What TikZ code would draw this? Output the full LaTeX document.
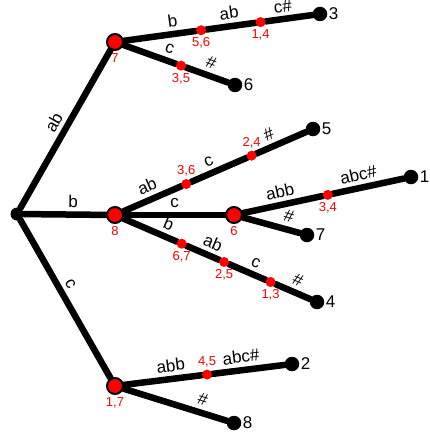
\documentclass[tikz,border=0pt]{standalone}
\usepackage{fontspec}
\setmainfont{Liberation Sans}
\usetikzlibrary{calc,backgrounds}

\begin{document}
\begin{tikzpicture}[x=1pt,y=-1pt,
  edge/.style={line width=6.5pt,line cap=round},
  leaf/.style={circle,fill=black,inner sep=0pt,minimum size=14.5pt,
    label={[font=\fontsize{17}{19}\selectfont,label distance=-2pt]right:#1}},
  inner/.style={circle,draw=black,line width=2pt,fill=red,inner sep=0pt,minimum size=16pt,
    label={[idx]below:#1}},
  split/.style={circle,fill=red,inner sep=0pt,minimum size=10pt},
  lbl/.style={font=\fontsize{17}{19}\selectfont,sloped,above,inner sep=2pt,yshift=2pt},
  idx/.style={font=\fontsize{13}{15}\selectfont,text=red,inner sep=2pt,label distance=0pt}]
  \useasboundingbox (0,0) rectangle (429,436);

  % tree nodes
  \node[circle,fill=black,inner sep=0pt,minimum size=13pt] (root) at (17,214) {};
  \node[inner=7] (n7) at (115,42) {};
  \node[inner=8] (n8) at (115,215) {};
  \node[inner={1,7}] (n17) at (115,386) {};
  \node[inner=6] (n6) at (234,215) {};

  % leaves
  \node[leaf=3] (l3) at (320,14) {};
  \node[leaf=6] (l6) at (235,85) {};
  \node[leaf=5] (l5) at (313,129) {};
  \node[leaf=1] (l1) at (411,177) {};
  \node[leaf=7] (l7) at (307,235) {};
  \node[leaf=4] (l4) at (317,302) {};
  \node[leaf=2] (l2) at (292,364) {};
  \node[leaf=8] (l8) at (234,423) {};

  % split points on the edges
  \node[split,label={[idx]below:{5,6}}] (s56) at ($(n7)!0.42!(l3)$) {};
  \node[split,label={[idx]below:{1,4}}] (s14) at ($(n7)!0.71!(l3)$) {};
  \node[split,label={[idx]below:{3,5}}] (s35) at ($(n7)!0.55!(l6)$) {};
  \node[split,label={[idx]above:{3,6}}] (s36) at ($(n8)!0.36!(l5)$) {};
  \node[split,label={[idx]above:{2,4}}] (s24) at ($(n8)!0.69!(l5)$) {};
  \node[split,label={[idx]below:{3,4}}] (s34) at ($(n6)!0.53!(l1)$) {};
  \node[split,label={[idx]below:{6,7}}] (s67) at ($(n8)!0.33!(l4)$) {};
  \node[split,label={[idx]below:{2,5}}] (s25) at ($(n8)!0.54!(l4)$) {};
  \node[split,label={[idx]below:{1,3}}] (s13) at ($(n8)!0.77!(l4)$) {};
  \node[split,label={[idx]above:{4,5}}] (s45) at ($(n17)!0.52!(l2)$) {};

  % edges
  \begin{pgfonlayer}{background}
    \draw[edge] (root) -- node[lbl]{ab} (n7);
    \draw[edge] (root) -- node[lbl,pos=0.6]{b} (n8);
    \draw[edge] (root) -- node[lbl,pos=0.44]{c} (n17);

    \draw[edge] (n7) -- node[lbl,pos=0.7]{b} (s56) -- node[lbl]{ab} (s14) -- node[lbl,pos=0.4,yshift=-1pt]{c\#} (l3);
    \draw[edge] (n7) -- node[lbl,pos=0.8]{c} (s35) -- node[lbl]{\#} (l6);

    \draw[edge] (n8) -- node[lbl]{ab} (s36) -- node[lbl,pos=0.4]{c} (s24) -- node[lbl,pos=0.35]{\#} (l5);
    \draw[edge] (n8) -- node[lbl]{c} (n6);
    \draw[edge] (n8) -- node[lbl,pos=0.75]{b} (s67) -- node[lbl,pos=0.65]{ab} (s25) -- node[lbl,pos=0.6]{c} (s13) -- node[lbl]{\#} (l4);

    \draw[edge] (n6) -- node[lbl]{abb} (s34) -- node[lbl,pos=0.4]{abc\#} (l1);
    \draw[edge] (n6) -- node[lbl,pos=0.75]{\#} (l7);

    \draw[edge] (n17) -- node[lbl,pos=0.62]{abb} (s45) -- node[lbl,pos=0.42]{abc\#} (l2);
    \draw[edge] (n17) -- node[lbl,pos=0.73]{\#} (l8);
  \end{pgfonlayer}
\end{tikzpicture}
\end{document}
